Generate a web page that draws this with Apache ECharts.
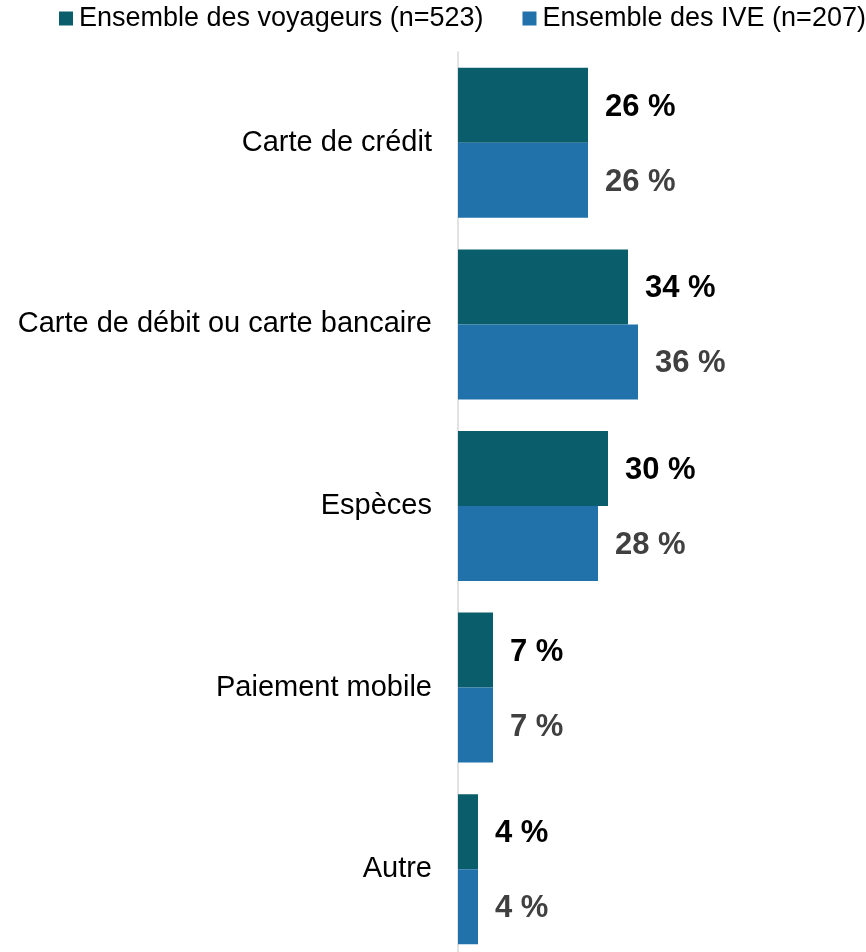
<!DOCTYPE html>
<html>
<head>
<meta charset="utf-8">
<script src="https://cdn.jsdelivr.net/npm/echarts@6/dist/echarts.min.js"></script>
<style>
  html, body { margin: 0; padding: 0; background: #fff; }
  #chart { width: 866px; height: 952px; }
</style>
</head>
<body>
<div id="chart"></div>
<script>
const categories = [
    "Carte de crédit",
    "Carte de débit ou carte bancaire",
    "Espèces",
    "Paiement mobile",
    "Autre",
]
const seriesNames = ["Ensemble des voyageurs (n=523)", "Ensemble des IVE (n=207)"]
const voyageurs = [26, 34, 30, 7, 4]
const ive = [26, 36, 28, 7, 4]

const chart = echarts.init(document.getElementById("chart"), null, { renderer: "canvas" })

const labelStyle = (color) => ({
    show: true,
    position: "right",
    distance: 17,
    offset: [0, 2],
    formatter: "{c} %",
    fontFamily: "Liberation Sans, Arial, sans-serif",
    fontSize: 31,
    fontWeight: "bold",
    color: color,
})

chart.setOption({
    animation: false,
    textStyle: { fontFamily: "Liberation Sans, Arial, sans-serif" },
    legend: {
        left: 59,
        top: 5,
        padding: 0,
        itemGap: 39,
        itemWidth: 14,
        itemHeight: 14,
        icon: "rect",
        textStyle: {
            fontSize: 27,
            color: "#000",
            lineHeight: 27,
            padding: [0, 0, 0, 1],
        },
        data: seriesNames,
    },
    grid: {
        left: 458,
        right: 8,
        top: 52,
        height: 908,
        outerBoundsMode: "none",
        containLabel: false,
    },
    xAxis: {
        type: "value",
        min: 0,
        max: 80,
        show: false,
    },
    yAxis: {
        type: "category",
        data: categories,
        inverse: true,
        axisTick: { show: false },
        axisLine: { show: true, lineStyle: { color: "#d9d9d9", width: 1.5 } },
        axisLabel: {
            fontSize: 29,
            color: "#000",
            margin: 26,
            padding: [4, 0, 0, 0],
        },
    },
    series: [
        {
            name: seriesNames[0],
            type: "bar",
            data: voyageurs,
            barGap: "0%",
            barCategoryGap: "17.4%",
            itemStyle: { color: "#0a5d6a" },
            label: labelStyle("#000"),
        },
        {
            name: seriesNames[1],
            type: "bar",
            data: ive,
            barGap: "0%",
            barCategoryGap: "17.4%",
            itemStyle: { color: "#2172aa" },
            label: labelStyle("#404040"),
        },
    ],
})
</script>
</body>
</html>
